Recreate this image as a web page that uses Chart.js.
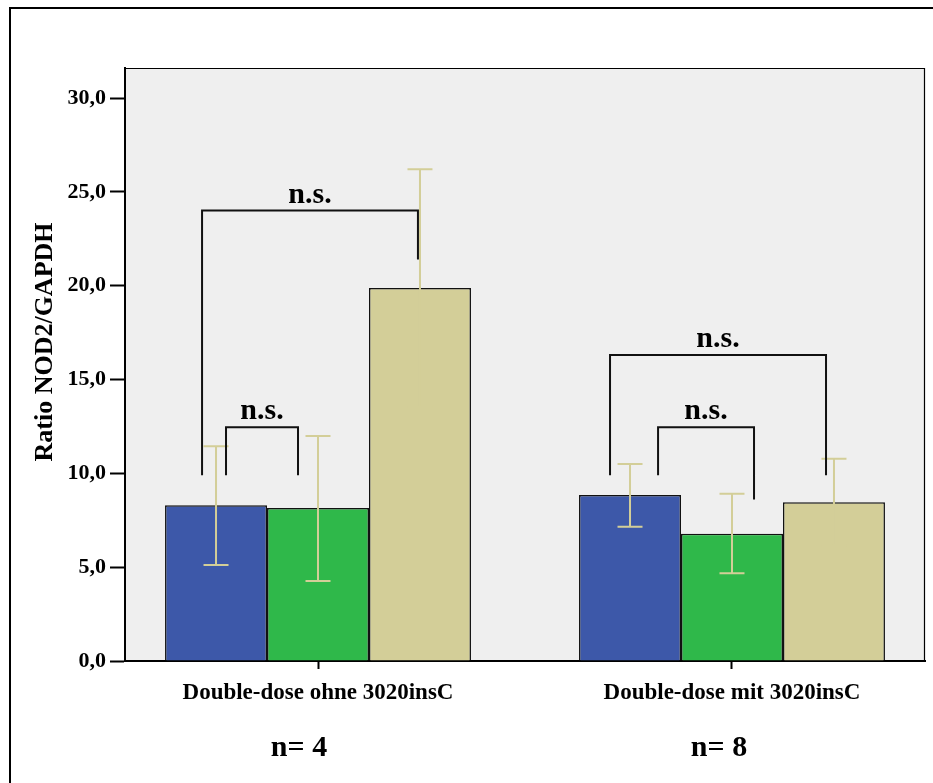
<!DOCTYPE html>
<html>
<head>
<meta charset="utf-8">
<script src="https://cdn.jsdelivr.net/npm/chart.js@4/dist/chart.umd.min.js"></script>
<style>
  html, body { margin: 0; padding: 0; background: #ffffff; }
  #wrap { width: 933px; height: 783px; }
</style>
</head>
<body>
<div id="wrap"><canvas id="c" width="933" height="783"></canvas></div>
<script>
// ---- data ----
const categories = ['Double-dose ohne 3020insC', 'Double-dose mit 3020insC'];
const sampleSizes = ['n= 4', 'n= 8'];
const yTickValues = [0, 5, 10, 15, 20, 25, 30];
const yTitle = 'Ratio NOD2/GAPDH';

const blueValues  = [8.30, 8.85];
const blueLow     = [5.11, 7.15];
const blueHigh    = [11.45, 10.50];

const greenValues = [8.15, 6.78];
const greenLow    = [4.26, 4.68];
const greenHigh   = [11.99, 8.91];

const tanValues   = [19.87, 8.46];
const tanLow      = [13.53, 6.14];
const tanHigh     = [26.21, 10.78];

// significance brackets: group, from/to series index, heights in data units
const bracketGroups = [0, 0, 1, 1];
const bracketFrom   = [0, 0, 0, 0];
const bracketTo     = [2, 1, 2, 1];
const bracketTop    = [24.0, 12.45, 16.3, 12.45];
const bracketFromEnd= [9.9, 9.9, 9.9, 9.9];
const bracketToEnd  = [21.4, 9.9, 9.9, 8.6];
const bracketLabels = ['n.s.', 'n.s.', 'n.s.', 'n.s.'];

// ---- styling ----
const SERIF = '"Liberation Serif", "Times New Roman", serif';
const colors = ['#3d58a9', '#2fb84a', '#d3ce98'];
const errColor = '#d3ce98';
const bracketOffsets = [[-0.137, -0.02], [0.098, -0.196], [-0.196, -0.078], [0.275, 0.216]];
const nLabelShift = [-19, -13];

const seriesValues = [blueValues, greenValues, tanValues];
const seriesLow = [blueLow, greenLow, tanLow];
const seriesHigh = [blueHigh, greenHigh, tanHigh];

const datasets = seriesValues.map((vals, s) => ({
  label: 'Serie ' + (s + 1),
  data: vals.map((v, i) => ({ x: i + 1, y: v })),
  backgroundColor: colors[s],
  borderColor: '#111111',
  borderWidth: 1.5,
  barPercentage: 1.0,
  categoryPercentage: 0.739,
  errLow: seriesLow[s],
  errHigh: seriesHigh[s]
}));

const framePlugin = {
  id: 'frame',
  beforeDraw(chart) {
    const ctx = chart.ctx, a = chart.chartArea;
    ctx.save();
    ctx.fillStyle = '#ffffff';
    ctx.fillRect(0, 0, chart.width, chart.height);
    ctx.strokeStyle = '#000000';
    ctx.lineWidth = 2;
    ctx.beginPath();
    ctx.moveTo(10, chart.height + 2);
    ctx.lineTo(10, 8);
    ctx.lineTo(chart.width + 2, 8);
    ctx.stroke();
    ctx.fillStyle = '#efefef';
    ctx.fillRect(a.left, a.top, a.right - a.left, a.bottom - a.top);
    ctx.restore();
  },
  afterDraw(chart) {
    const ctx = chart.ctx, a = chart.chartArea;
    ctx.save();
    ctx.strokeStyle = '#000000';
    ctx.lineWidth = 1.2;
    ctx.beginPath();
    ctx.moveTo(a.left, a.top + 0.5);
    ctx.lineTo(a.right - 0.5, a.top + 0.5);
    ctx.lineTo(a.right - 0.5, a.bottom);
    ctx.stroke();
    // y title
    ctx.fillStyle = '#000000';
    ctx.font = 'bold 26px ' + SERIF;
    ctx.textAlign = 'center';
    ctx.textBaseline = 'middle';
    ctx.translate(45, 342);
    ctx.rotate(-Math.PI / 2);
    ctx.fillText(yTitle, 0, 0);
    ctx.restore();
    // n labels
    ctx.save();
    const xs = chart.scales.x;
    ctx.fillStyle = '#000000';
    ctx.font = 'bold 30px ' + SERIF;
    ctx.textAlign = 'center';
    ctx.textBaseline = 'alphabetic';
    sampleSizes.forEach((t, i) => {
      ctx.fillText(t, xs.getPixelForValue(i + 1) + nLabelShift[i], 756);
    });
    ctx.restore();
  }
};

const errorPlugin = {
  id: 'errbars',
  afterDatasetsDraw(chart) {
    const ctx = chart.ctx, ys = chart.scales.y;
    ctx.save();
    ctx.strokeStyle = errColor;
    ctx.lineWidth = 2;
    chart.data.datasets.forEach((ds, s) => {
      const meta = chart.getDatasetMeta(s);
      meta.data.forEach((bar, j) => {
        const x = bar.x;
        const yH = ys.getPixelForValue(ds.errHigh[j]);
        const yL = ys.getPixelForValue(ds.errLow[j]);
        ctx.beginPath();
        ctx.moveTo(x, yH); ctx.lineTo(x, yL);
        ctx.moveTo(x - 12.5, yH); ctx.lineTo(x + 12.5, yH);
        ctx.moveTo(x - 12.5, yL); ctx.lineTo(x + 12.5, yL);
        ctx.stroke();
      });
    });
    ctx.restore();
    // brackets
    ctx.save();
    ctx.strokeStyle = '#111111';
    ctx.lineWidth = 2;
    ctx.fillStyle = '#000000';
    ctx.font = 'bold 30px ' + SERIF;
    ctx.textAlign = 'center';
    ctx.textBaseline = 'alphabetic';
    bracketGroups.forEach((g, k) => {
      const b1 = chart.getDatasetMeta(bracketFrom[k]).data[g];
      const b2 = chart.getDatasetMeta(bracketTo[k]).data[g];
      const x1 = b1.x + bracketOffsets[k][0] * b1.width;
      const x2 = b2.x + bracketOffsets[k][1] * b2.width;
      const yt = ys.getPixelForValue(bracketTop[k]);
      const y1 = ys.getPixelForValue(bracketFromEnd[k]);
      const y2 = ys.getPixelForValue(bracketToEnd[k]);
      ctx.beginPath();
      ctx.moveTo(x1, y1); ctx.lineTo(x1, yt); ctx.lineTo(x2, yt); ctx.lineTo(x2, y2);
      ctx.stroke();
      ctx.fillText(bracketLabels[k], (x1 + x2) / 2, yt - 8);
    });
    ctx.restore();
  }
};

new Chart(document.getElementById('c'), {
  type: 'bar',
  data: { datasets },
  options: {
    responsive: false,
    animation: false,
    devicePixelRatio: 1,
    layout: { padding: { top: 68, right: 8, left: 0, bottom: 0 } },
    plugins: { legend: { display: false }, tooltip: { enabled: false }, title: { display: false } },
    scales: {
      x: {
        type: 'linear',
        bounds: 'data',
        offset: false,
        min: 0.5338,
        max: 2.4662,
        afterBuildTicks(scale) { scale.ticks = categories.map((c, i) => ({ value: i + 1 })); },
        afterFit(scale) { scale.height = 122; },
        grid: { offset: false, drawOnChartArea: false, drawTicks: true, tickLength: 8, tickColor: '#000000', tickWidth: 2, color: '#000000' },
        border: { display: true, color: '#000000', width: 2 },
        ticks: {
          autoSkip: false,
          maxRotation: 0,
          padding: 10,
          color: '#000000',
          font: { family: SERIF, size: 23, weight: 'bold' },
          callback: (v) => categories[Math.round(v) - 1]
        }
      },
      y: {
        type: 'linear',
        bounds: 'data',
        min: 0,
        max: 31.6,
        afterBuildTicks(scale) { scale.ticks = yTickValues.map(v => ({ value: v })); },
        afterFit(scale) { scale.width = 125; },
        grid: { drawOnChartArea: false, drawTicks: true, tickLength: 15, tickColor: '#000000', tickWidth: 2, color: '#000000' },
        border: { display: true, color: '#000000', width: 2 },
        ticks: {
          padding: 4,
          color: '#000000',
          font: { family: SERIF, size: 22, weight: 'bold' },
          callback: (v) => v.toFixed(1).replace('.', ',')
        }
      }
    }
  },
  plugins: [framePlugin, errorPlugin]
});
</script>
</body>
</html>
